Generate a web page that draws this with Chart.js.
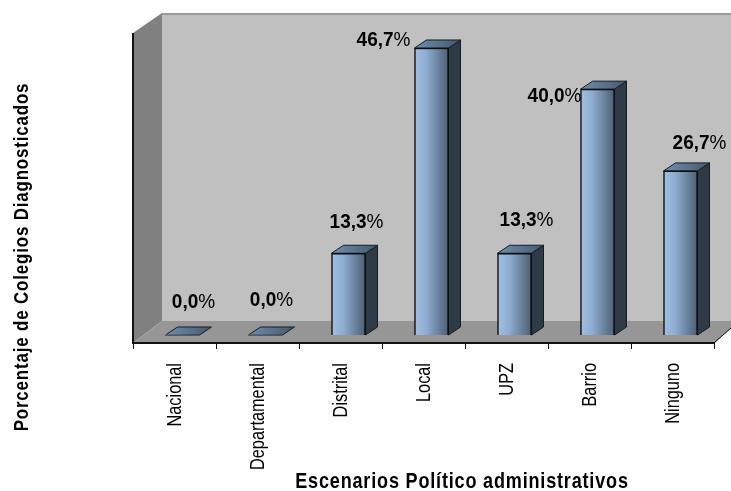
<!DOCTYPE html>
<html>
<head>
<meta charset="utf-8">
<style>
  html, body { margin: 0; padding: 0; background: #fff; }
  canvas { display: block; }
</style>
<script src="https://cdn.jsdelivr.net/npm/chart.js@4"></script>
</head>
<body>
<canvas id="myChart" width="731" height="491"></canvas>
<script>
const categories = ['Nacional', 'Departamental', 'Distrital', 'Local', 'UPZ', 'Barrio', 'Ninguno'];
const percentages = [0, 0, 13.3, 46.7, 13.3, 40, 26.7];
const xTitle = 'Escenarios Político administrativos';
const yTitle = 'Porcentaje de Colegios Diagnosticados';

// where each value label sits relative to the top of its bar
const labelShiftX = [11, 6, 8, -48, 12, -43, 19];
const labelShiftY = [-34, -36, -32, -9, -34, 6, -29];

const fontName = '"Liberation Sans", sans-serif';
const barDepthX = 12, barDepthY = 8;
const frameShift = 8;

function poly(ctx, pts, fill, stroke) {
    ctx.beginPath();
    pts.forEach(function(p, i) {
        if (i === 0) ctx.moveTo(p[0], p[1]); else ctx.lineTo(p[0], p[1]);
    });
    ctx.closePath();
    if (fill) { ctx.fillStyle = fill; ctx.fill(); }
    if (stroke) { ctx.strokeStyle = stroke; ctx.lineWidth = 1; ctx.stroke(); }
}

// the original type is tall and narrow, so squeeze it along the text direction
function squeezedText(ctx, text, x, y, font, squeeze, spacing, align, rotated) {
    ctx.save();
    ctx.translate(x, y);
    if (rotated) ctx.rotate(-Math.PI / 2);
    ctx.scale(squeeze, 1);
    ctx.font = font;
    ctx.letterSpacing = spacing;
    ctx.textAlign = align;
    ctx.textBaseline = 'alphabetic';
    ctx.fillStyle = '#000';
    ctx.fillText(text, 0, 0);
    ctx.restore();
}

const frame3d = {
    id: 'frame3d',
    beforeDatasetsDraw: function(chart) {
        const ctx = chart.ctx, area = chart.chartArea, sx = chart.scales.x;
        const left = area.left - frameShift;
        const right = area.right - frameShift;
        const base = area.bottom;
        const backX = left + 29, topY = area.top - 20, floorY = base - 14, axisY = base + 8;

        // back wall, side wall, floor
        ctx.fillStyle = '#c0c0c0';
        ctx.fillRect(backX, topY, 731 - backX, floorY - topY);
        ctx.fillStyle = '#9a9a9a';
        ctx.fillRect(backX, topY, 731 - backX, 2);
        poly(ctx, [[left, area.top], [backX, topY], [backX, floorY], [left, axisY]], '#808080');
        poly(ctx, [[left, axisY], [backX, floorY], [731, floorY], [731, axisY - 15], [right + 1, axisY]], '#969696');

        // axes and tick marks
        ctx.strokeStyle = '#111';
        ctx.lineWidth = 2;
        ctx.beginPath();
        ctx.moveTo(left, area.top);
        ctx.lineTo(left, axisY + 1);
        ctx.moveTo(left, axisY);
        ctx.lineTo(right + 1, axisY);
        ctx.stroke();
        ctx.lineWidth = 1;
        ctx.beginPath();
        ctx.moveTo(right + 1, axisY - 1);
        ctx.lineTo(731, axisY - 15);
        const step = sx.width / categories.length;
        for (let i = 0; i <= categories.length; i++) {
            const tx = Math.round(left + i * step) + 0.5;
            ctx.moveTo(tx, axisY);
            ctx.lineTo(tx, axisY + 6);
        }
        ctx.stroke();

        // depth faces of the bars
        chart.getDatasetMeta(0).data.forEach(function(bar) {
            const l = bar.x - bar.width / 2, r = bar.x + bar.width / 2;
            const top = bar.y, bottom = bar.base;
            const dx = barDepthX, dy = barDepthY;
            if (bottom - top > 1) {
                poly(ctx, [[r, top], [r + dx, top - dy], [r + dx, bottom - dy], [r, bottom]], '#2e3a46', '#161c22');
            }
            const g = ctx.createLinearGradient(l, 0, r + dx, 0);
            g.addColorStop(0, '#6f8eb0');
            g.addColorStop(1, '#46596c');
            poly(ctx, [[l, top], [l + dx, top - dy], [r + dx, top - dy], [r, top]], g, '#161c22');
        });
    },
    afterDatasetsDraw: function(chart) {
        const ctx = chart.ctx, sx = chart.scales.x;
        const valueSqueeze = 0.95;

        chart.getDatasetMeta(0).data.forEach(function(bar, i) {
            const num = percentages[i].toFixed(1).replace('.', ',');
            const cx = bar.x + labelShiftX[i], baseY = bar.y + labelShiftY[i] + 7;
            ctx.font = 'bold 20px ' + fontName;
            const w1 = ctx.measureText(num).width * valueSqueeze;
            ctx.font = '20px ' + fontName;
            const w2 = ctx.measureText('%').width * valueSqueeze;
            const start = cx - (w1 + w2) / 2;
            squeezedText(ctx, num, start, baseY, 'bold 20px ' + fontName, valueSqueeze, '0px', 'left', false);
            squeezedText(ctx, '%', start + w1, baseY, '20px ' + fontName, valueSqueeze, '0px', 'left', false);
        });

        // category labels, placed from the x scale
        categories.forEach(function(name, i) {
            const px = sx.getPixelForValue(i);
            squeezedText(ctx, sx.getLabelForValue(i), px - 1.5, 363, '21px ' + fontName, 0.777, '0px', 'right', true);
        });

        // axis titles
        squeezedText(ctx, xTitle, 462, 488, 'bold 22px ' + fontName, 0.82, '1px', 'center', false);
        squeezedText(ctx, yTitle, 28, 257, 'bold 20px ' + fontName, 0.845, '1px', 'center', true);
    }
};

new Chart(document.getElementById('myChart'), {
    type: 'bar',
    data: {
        labels: categories,
        datasets: [{
            label: 'Porcentaje',
            data: percentages,
            barThickness: 34,
            borderColor: '#0c0c0c',
            borderWidth: function(context) { return context.parsed && context.parsed.y > 0 ? 1.5 : 0; },
            backgroundColor: function(context) {
                const x = context.chart.scales.x ? context.chart.scales.x.getPixelForValue(context.dataIndex) : NaN;
                if (!Number.isFinite(x)) return '#8dacd0';
                const g = context.chart.ctx.createLinearGradient(x - 17, 0, x + 17, 0);
                g.addColorStop(0, '#9fc0e4');
                g.addColorStop(0.35, '#8dacd0');
                g.addColorStop(1, '#4d5f73');
                return g;
            }
        }]
    },
    options: {
        responsive: false,
        animation: false,
        layout: { padding: { left: 141, right: 9, top: 33, bottom: 0 } },
        plugins: {
            legend: { display: false },
            tooltip: { enabled: false }
        },
        scales: {
            x: {
                grid: { display: false },
                border: { display: false },
                afterFit: function(scale) { scale.height = 156; },
                ticks: { display: false, autoSkip: false }
            },
            y: {
                display: false,
                min: 0,
                max: 49.14
            }
        }
    },
    plugins: [frame3d]
});
</script>
</body>
</html>
